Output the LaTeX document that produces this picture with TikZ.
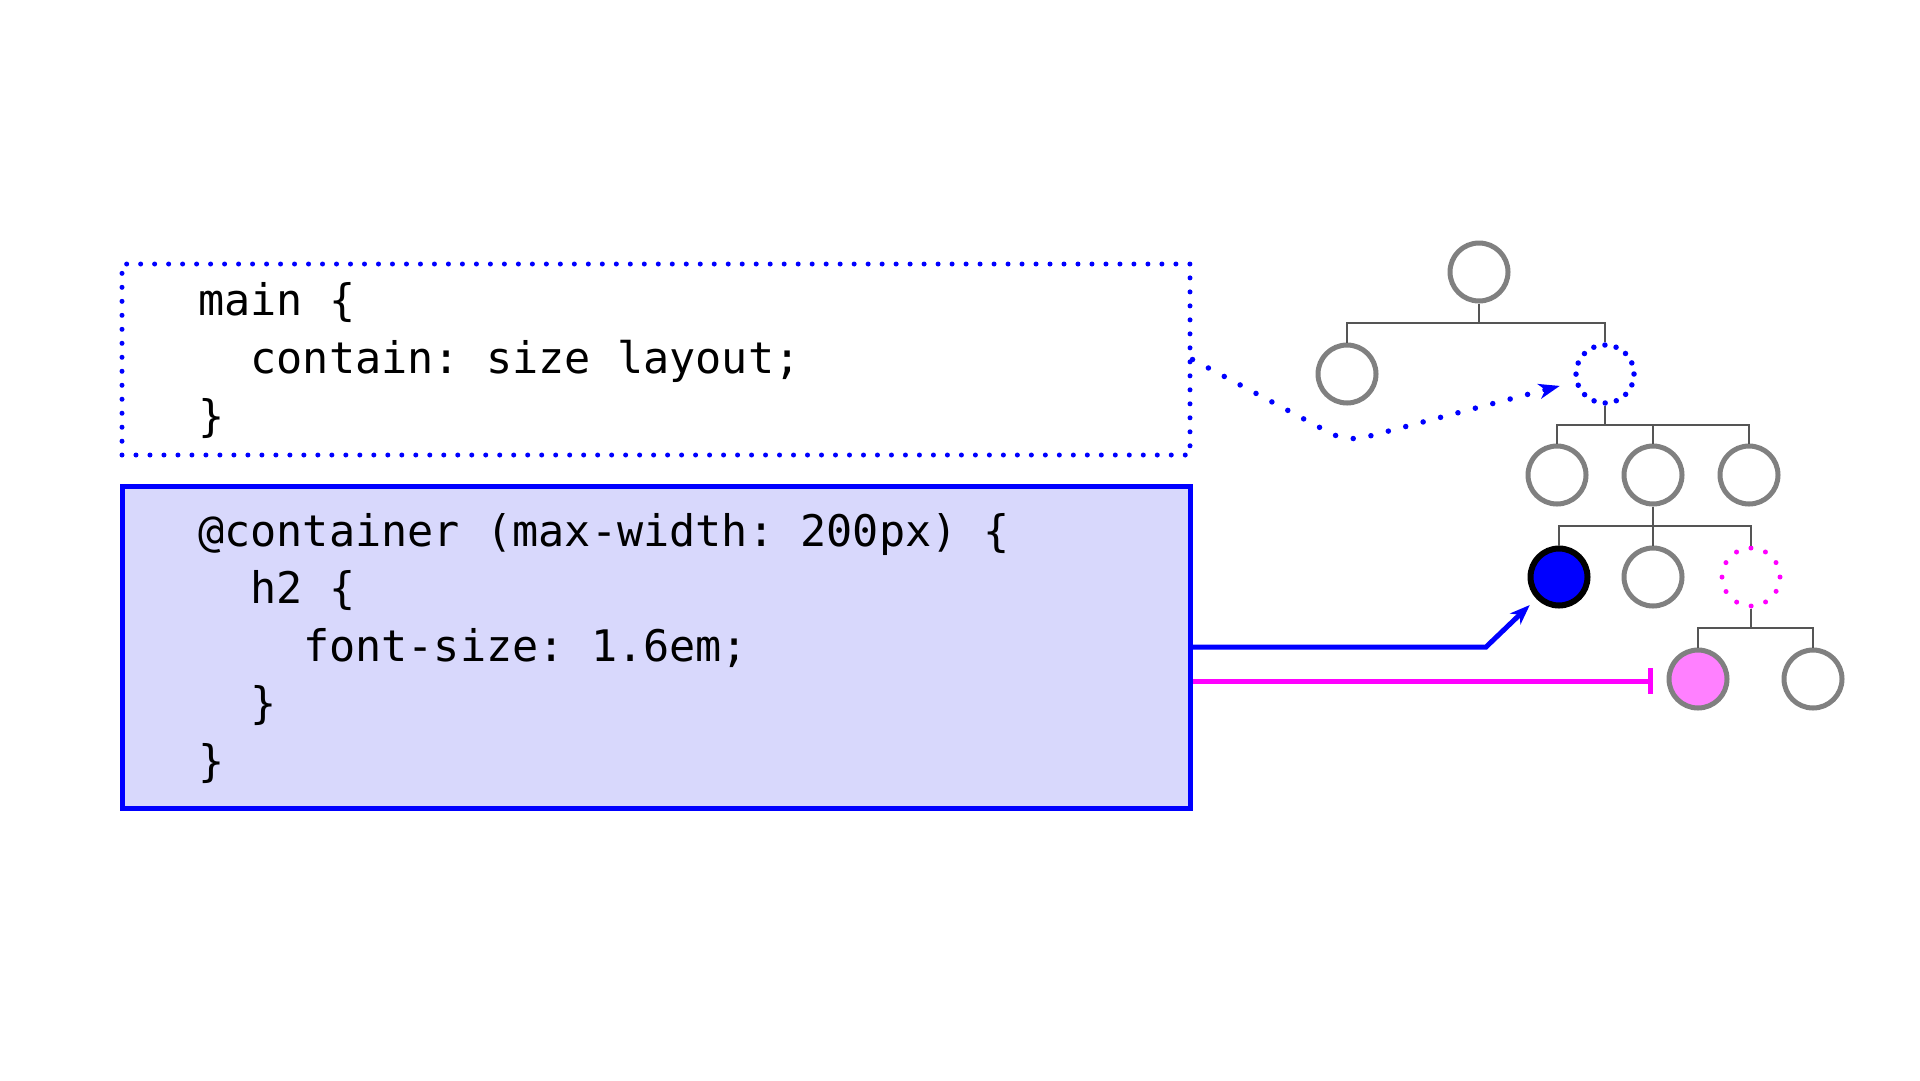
\documentclass[tikz,border=0pt]{standalone}
\usepackage{fontspec}
\setmonofont{DejaVu Sans Mono}
\usetikzlibrary{arrows.meta,calc}
\definecolor{lav}{HTML}{D8D8FC}
\definecolor{cgray}{HTML}{808080}
\definecolor{tline}{HTML}{555555}
\definecolor{pinkf}{HTML}{FF80FF}
\definecolor{mag}{HTML}{FF00FF}
\definecolor{pblue}{HTML}{0000FF}
\begin{document}
\begin{tikzpicture}[x=1pt,y=-1pt,
  code/.style={font=\ttfamily\fontsize{43.5}{52}\selectfont, inner sep=0pt, anchor=base west},
  dotbox/.style={draw=pblue, line width=5pt, dash pattern=on 0pt off 13.99pt, line cap=round, minimum width=1068pt, minimum height=191pt, inner sep=0pt},
  solidbox/.style={draw=pblue, fill=lav, line width=5pt, minimum width=1068pt, minimum height=322pt, inner sep=0pt},
  tnode/.style={circle, draw=cgray, line width=5pt, minimum size=58pt, inner sep=0pt, fill=white},
  bluedotc/.style={circle, draw=pblue, line width=5.5pt, dash pattern=on 0pt off 11.39pt, line cap=round, minimum size=58pt, inner sep=0pt},
  magdotc/.style={circle, draw=mag, line width=5pt, dash pattern=on 0pt off 15.18pt, line cap=round, minimum size=58pt, inner sep=0pt},
  bluefc/.style={circle, draw=black, fill=pblue, line width=6pt, minimum size=57pt, inner sep=0pt},
  pinkc/.style={tnode, fill=pinkf},
  tl/.style={draw=tline, line width=2pt},
  bluedotarr/.style={draw=pblue, line width=5.5pt, dash pattern=on 0pt off 18pt, line cap=round, rounded corners=18pt, -{Stealth[length=21pt,width=15pt,inset=6pt]}, shorten >=15pt},
  bluearr/.style={draw=pblue, line width=5pt, -{Stealth[length=20pt,width=15pt,inset=6pt]}, shorten >=9pt},
  magarr/.style={draw=mag, line width=5pt, -{Bar[width=26pt,line width=5pt]}, shorten >=14pt}
]
\useasboundingbox (0,0) rectangle (1920,1080);

% code boxes
\node[dotbox] (mq) at (656,359.5) {};
\node[solidbox] (cq) at (656,647) {};

\node[code] (m1) at (198,315) {main \{};
\node[code] (m2) at (250.4,373) {contain: size layout;};
\node[code] (m3) at (198,431) {\}};

\node[code] (c1) at (198,546) {@container (max-width: 200px) \{};
\node[code] (c2) at (250.4,603.5) {h2 \{};
\node[code] (c3) at (302.8,661) {font-size: 1.6em;};
\node[code] (c4) at (250.4,718.5) {\}};
\node[code] (c5) at (198,776) {\}};

% tree
\node[tnode] (root) at (1479,272) {};
\node[tnode] (l2a) at (1347,374) {};
\node[bluedotc] (l2b) at (1605,374) {};
\node[tnode] (l3a) at (1557,475) {};
\node[tnode] (l3b) at (1653,475) {};
\node[tnode] (l3c) at (1749,475) {};
\node[bluefc] (l4a) at (1559,577) {};
\node[tnode] (l4b) at (1653,577) {};
\node[magdotc] (l4c) at (1751,577) {};
\node[pinkc] (l5a) at (1698,679) {};
\node[tnode] (l5b) at (1813,679) {};

\coordinate (b1) at (1479,323);
\coordinate (b2) at (1605,425);
\coordinate (b3) at (1653,526);
\coordinate (b4) at (1751,628);

\draw[tl] (root.south) -- (b1);
\draw[tl] (l2a.north) |- (b1) -| (l2b.north);
\draw[tl] (l2b.south) -- (b2);
\draw[tl] (l3a.north) |- (b2) -| (l3c.north);
\draw[tl] (l3b.north) -- (l3b.north |- b2);
\draw[tl] (l3b.south) -- (l4b.north);
\draw[tl] (l4a.north) |- (b3) -| (l4c.north);
\draw[tl] (l4c.south) -- (b4);
\draw[tl] (l5a.north) |- (b4) -| (l5b.north);

% connectors
\coordinate (k1) at (1347,442);
\coordinate (k2) at (1486,647);
\draw[bluedotarr] (mq.east) -- (k1) -- (l2b);
\draw[bluearr] (cq.east) -- (k2) -- (l4a);
\draw[magarr] (cq.east |- 0,681) -- (l5a.west |- 0,681);
\end{tikzpicture}
\end{document}
